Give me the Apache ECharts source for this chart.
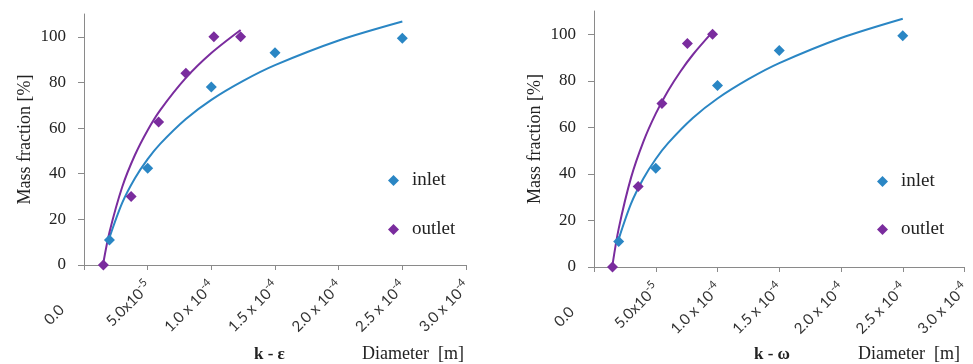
<!DOCTYPE html>
<html>
<head>
<meta charset="utf-8">
<script src="https://cdn.jsdelivr.net/npm/echarts@6/dist/echarts.min.js"></script>
<style>
  html, body { margin: 0; padding: 0; background: #fff; }
  #chart { width: 973px; height: 364px; }
</style>
</head>
<body>
<div id="chart"></div>
<script>
// measured points (diameter [m], mass fraction [%])
const inletD  = [2e-5, 5e-5, 1e-4, 1.5e-4, 2.5e-4];
const inletM  = [11, 42.4, 78, 93, 99.4];
const outletKeD = [1.52e-5, 3.7e-5, 5.86e-5, 8.0e-5, 1.02e-4, 1.23e-4];
const outletKeM = [0, 30, 62.7, 84, 100, 100];
const outletKwD = [1.5e-5, 3.58e-5, 5.5e-5, 7.56e-5, 9.6e-5];
const outletKwM = [0, 34.6, 70.3, 96, 100];

// trend lines
const inletFitD = [2e-5, 3e-5, 4e-5, 5e-5, 6e-5, 8e-5, 1e-4, 1.25e-4, 1.5e-4, 2e-4, 2.5e-4];
const inletFitM = [12, 27.2, 38, 46.4, 53.2, 64, 72.4, 80.7, 87.6, 98.4, 106.7];
const outletKeFitD = [1.52e-5, 2e-5, 3e-5, 4e-5, 5e-5, 6e-5, 8e-5, 1e-4, 1.23e-4];
const outletKeFitM = [1, 14.4, 34.2, 48.2, 59.1, 68, 82, 92.9, 103];
const outletKwFitD = [1.5e-5, 2e-5, 3e-5, 4e-5, 5e-5, 6e-5, 7e-5, 8e-5, 9.6e-5];
const outletKwFitM = [1, 16.5, 38.4, 53.9, 65.9, 75.7, 84, 91.2, 101];

// axis ticks
const xTicks   = [0, 5e-5, 1e-4, 1.5e-4, 2e-4, 2.5e-4, 3e-4];
const xTickTxt = ['0.0', '5.0x10', '1.0 x 10', '1.5 x 10', '2.0 x 10', '2.5 x 10', '3.0 x 10'];
const xTickExp = ['', '-5', '-4', '-4', '-4', '-4', '-4'];
const yTicks   = [0, 20, 40, 60, 80, 100];

const FONT = '"Liberation Serif", "DejaVu Serif", serif';
const SANS = 'Lato, "Open Sans", sans-serif';
const TXT = '#222';
const AX = '#8a8a8a';
const BLUE = '#2a86c4';
const PURPLE = '#7a2c9e';

const zip = (a, b) => a.map((v, i) => [v, b[i]]);
const tickIdx = v => xTicks.findIndex(t => Math.abs(t - v) < 1e-9);

const c = echarts.init(document.getElementById('chart'));

function xAxis(gi) {
  return {
    type: 'value', gridIndex: gi, min: 0, max: 3e-4,
    axisLine: { lineStyle: { color: AX } },
    axisTick: { show: true, customValues: xTicks, length: 5, lineStyle: { color: AX } },
    splitLine: { show: false },
    axisLabel: {
      customValues: xTicks, rotate: 45, margin: 18,
      fontFamily: SANS, fontSize: 15, color: '#333',
      formatter: v => {
        const i = tickIdx(v);
        if (i < 0) return '';
        return xTickExp[i] ? `{b|${xTickTxt[i]}}{s|${xTickExp[i]}}` : `{z|${xTickTxt[i]}}`;
      },
      rich: {
        b: { fontFamily: SANS, fontSize: 15, color: '#333', lineHeight: 18, verticalAlign: 'bottom' },
        s: { fontFamily: SANS, fontSize: 11, color: '#333', lineHeight: 12, verticalAlign: 'top' },
        z: { fontFamily: SANS, fontSize: 15, color: '#333', lineHeight: 18, verticalAlign: 'bottom', padding: [0, 33, 0, 0] },
      },
    },
  };
}

function yAxis(gi) {
  return {
    type: 'value', gridIndex: gi, min: 0, max: 110,
    name: 'Mass fraction [%]', nameLocation: 'middle', nameGap: 50,
    nameTextStyle: { fontFamily: FONT, fontSize: 18, color: TXT },
    axisLine: { show: true, lineStyle: { color: AX } },
    axisTick: { show: true, customValues: yTicks, length: 6, lineStyle: { color: AX } },
    splitLine: { show: false },
    axisLabel: { customValues: yTicks, margin: 18, fontFamily: FONT, fontSize: 17, color: TXT },
  };
}

const scatter = (name, gi, data, color) => ({
  name, type: 'scatter', xAxisIndex: gi, yAxisIndex: gi,
  data, symbol: 'diamond', symbolSize: 11, itemStyle: { color, opacity: 1 }, z: 3,
});
const trend = (gi, data, color) => ({
  name: 'trend', type: 'line', xAxisIndex: gi, yAxisIndex: gi,
  data, smooth: 0.3, symbol: 'none', lineStyle: { color, width: 2 }, z: 2,
});

const legend = (left, top, gap) => ({
  data: ['inlet', 'outlet'], orient: 'vertical', left, top,
  icon: 'diamond', itemWidth: 11, itemHeight: 11, itemGap: gap,
  textStyle: { fontFamily: FONT, fontSize: 19, color: TXT, padding: [0, 0, 0, 8] },
  selectedMode: false,
});

const lbl = (x, y, text, bold, size) => ({
  type: 'text', left: x, top: y,
  style: { text, fontFamily: FONT, fontSize: size || 17, fontWeight: bold ? 'bold' : 'normal', fill: TXT },
});

c.setOption({
  animation: false,
  backgroundColor: '#fff',
  grid: [
    { left: 84, top: 14, width: 382, height: 251 },
    { left: 594, top: 11, width: 375, height: 256 },
  ],
  xAxis: [xAxis(0), xAxis(1)],
  yAxis: [yAxis(0), yAxis(1)],
  legend: [legend(383, 166, 30), legend(872, 167, 29)],
  series: [
    trend(0, zip(inletFitD, inletFitM), BLUE),
    trend(0, zip(outletKeFitD, outletKeFitM), PURPLE),
    scatter('inlet', 0, zip(inletD, inletM), BLUE),
    scatter('outlet', 0, zip(outletKeD, outletKeM), PURPLE),
    trend(1, zip(inletFitD, inletFitM), BLUE),
    trend(1, zip(outletKwFitD, outletKwFitM), PURPLE),
    scatter('inlet', 1, zip(inletD, inletM), BLUE),
    scatter('outlet', 1, zip(outletKwD, outletKwM), PURPLE),
  ],
  graphic: [
    lbl(254, 346, 'k - \u03b5', true),
    lbl(362, 345, 'Diameter  [m]', false, 18),
    lbl(754, 346, 'k - \u03c9', true),
    lbl(858, 345, 'Diameter  [m]', false, 18),
  ],
});
</script>
</body>
</html>
